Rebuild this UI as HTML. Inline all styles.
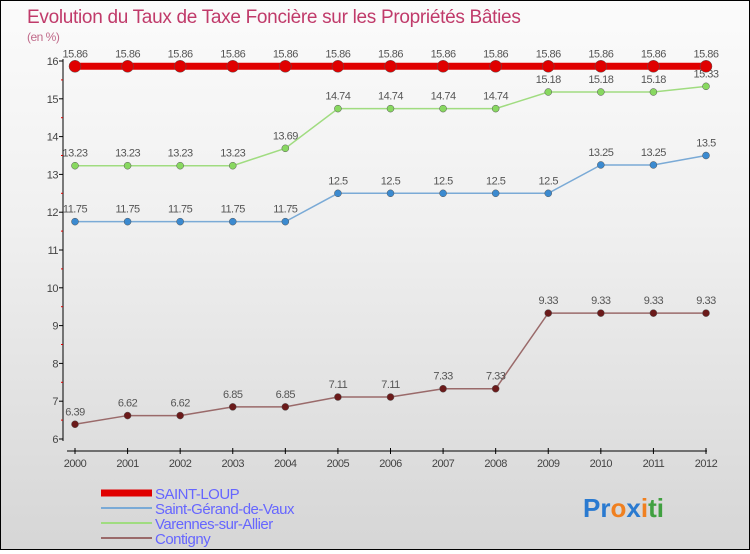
<!DOCTYPE html>
<html><head><meta charset="utf-8"><style>
html,body{margin:0;padding:0}
body{width:750px;height:550px;overflow:hidden;font-family:"Liberation Sans",sans-serif}
#wrap{position:relative;width:748px;height:548px;border:1px solid #000;background:linear-gradient(#fbfbfb,#f0f0f0 40%,#d6d6d6)}
</style></head><body>
<div id="wrap">
<svg id="chart" width="748" height="548"></svg>
</div>
<script>
const years=[2000,2001,2002,2003,2004,2005,2006,2007,2008,2009,2010,2011,2012];
const saintLoup=[15.86,15.86,15.86,15.86,15.86,15.86,15.86,15.86,15.86,15.86,15.86,15.86,15.86];
const saintGerand=[11.75,11.75,11.75,11.75,11.75,12.5,12.5,12.5,12.5,12.5,13.25,13.25,13.5];
const varennes=[13.23,13.23,13.23,13.23,13.69,14.74,14.74,14.74,14.74,15.18,15.18,15.18,15.33];
const contigny=[6.39,6.62,6.62,6.85,6.85,7.11,7.11,7.33,7.33,9.33,9.33,9.33,9.33];
const yTicks=[6,7,8,9,10,11,12,13,14,15,16];
const svg=document.getElementById('chart');
const NS='http://www.w3.org/2000/svg';
function xs(i){return 74+i*(705-74)/(years.length-1);}
function ys(v){return 438-(v-6)*37.8;}
function mk(tag,attrs,parent){const e=document.createElementNS(NS,tag);for(const k in attrs)e.setAttribute(k,attrs[k]);(parent||svg).appendChild(e);return e;}
function txt(x,y,s,opts){const t=mk('text',Object.assign({x:x,y:y,'font-size':11,fill:'#444','font-family':'Liberation Sans, sans-serif','letter-spacing':'-0.5'},opts||{}));t.textContent=s;return t;}
// title
let t=txt(26,22,'Evolution du Taux de Taxe Foncière sur les Propriétés Bâties',{'font-size':19,fill:'#c03a6a','letter-spacing':'-0.3'});


t=txt(26,40,'(en %)',{'font-size':12,fill:'#c06a8a'});


// axes
let a=mk('line',{x1:62,y1:58,x2:62,y2:440,stroke:'#000','stroke-width':1});


a=mk('line',{x1:66,y1:450,x2:706,y2:450,stroke:'#000','stroke-width':1});


yTicks.forEach(v=>{
  const y=ys(v);
  mk('line',{x1:58,y1:y,x2:62,y2:y,stroke:'#000'});
  if(v<16) mk('line',{x1:60,y1:ys(v+0.5),x2:62,y2:ys(v+0.5),stroke:'#d00'});
  const l=txt(57,y+4,String(v),{'text-anchor':'end'});
  
  
});
years.forEach((yr,i)=>{
  const x=xs(i);
  mk('line',{x1:x,y1:447,x2:x,y2:453,stroke:'#000'});
  const l=txt(x,466,String(yr),{'text-anchor':'middle'});
  
  
});
function series(vals,color,width,r,name){
  const g=mk('g',{});
  
  
  mk('polyline',{points:vals.map((v,i)=>xs(i)+','+ys(v)).join(' '),fill:'none',stroke:color,'stroke-width':width},g);
  vals.forEach((v,i)=>{
    const c=mk('circle',{cx:xs(i),cy:ys(v),r:r,fill:color,stroke:'#555','stroke-width':0.5},g);
    
    
    const l=txt(xs(i),ys(v)-9,String(v),{'text-anchor':'middle',fill:'#555'},g);
    g.appendChild(l);
  });
}
series(contigny,'#6b1a1a',1.5,3.5,'series-contigny');
series(saintGerand,'#3b8ad0',1.5,3.5,'series-saint-gerand');
series(varennes,'#88d860',1.5,3.5,'series-varennes');
svg.querySelectorAll('g')[0].querySelector('polyline').setAttribute('stroke','#9a6a6a');
svg.querySelectorAll('g')[1].querySelector('polyline').setAttribute('stroke','#7aaad6');
svg.querySelectorAll('g')[2].querySelector('polyline').setAttribute('stroke','#a0dc80');
series(saintLoup,'#e00000',7,6,'series-saint-loup');
// legend
const leg=[['SAINT-LOUP','#e00000',7],['Saint-Gérand-de-Vaux','#7aaad6',2],['Varennes-sur-Allier','#a0dc80',2],['Contigny','#9a6a6a',2]];
leg.forEach((e,i)=>{
  const y=492+i*15;
  const g=mk('g',{});
  
  
  mk('line',{x1:100,y1:y,x2:151,y2:y,stroke:e[1],'stroke-width':e[2]},g);
  const l=txt(154,y+6,e[0],{'font-size':15,fill:'#6666ff'});
  g.appendChild(l);
});
// logo
const logo=mk('text',{x:582,y:516,'font-size':26,'font-weight':'bold','font-family':'Liberation Sans, sans-serif'});


[['P','#2a7ad0'],['r','#2a7ad0'],['o','#f08020'],['x','#2a7ad0'],['i','#f08020'],['t','#40a040'],['i','#40a040']].forEach(p=>{const s=mk('tspan',{fill:p[1]},logo);s.textContent=p[0];});
</script>
</body></html>
